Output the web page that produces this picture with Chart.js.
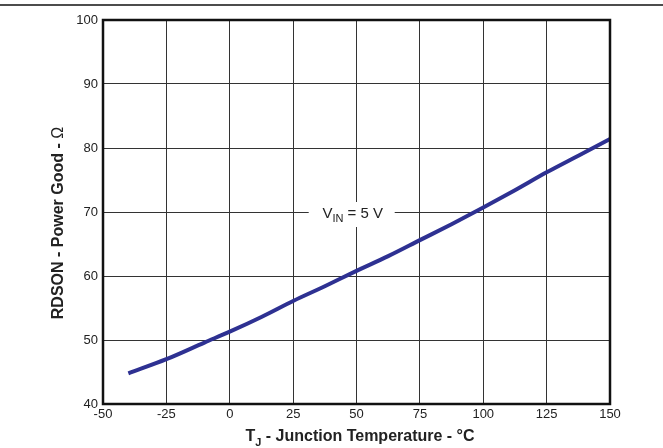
<!DOCTYPE html>
<html>
<head>
<meta charset="utf-8">
<script src="https://cdn.jsdelivr.net/npm/chart.js@4/dist/chart.umd.min.js"></script>
<style>
  html, body { margin: 0; padding: 0; background: #fff; }
  #wrap { width: 663px; height: 448px; }
</style>
</head>
<body>
<div id="wrap"><canvas id="chart" width="663" height="448"></canvas></div>
<script>
// Data
let temps = [-40, -25, -10, 0, 12.5, 25, 37.5, 50, 62.5, 75, 87.5, 100, 112.5, 125, 137.5, 150];
let rdson = [44.8, 47.0, 49.6, 51.3, 53.6, 56.1, 58.4, 60.8, 63.1, 65.6, 68.1, 70.7, 73.4, 76.2, 78.8, 81.4];
let xTicks = [-50, -25, 0, 25, 50, 75, 100, 125, 150];
let yTicks = [40, 50, 60, 70, 80, 90, 100];

const font = "'Liberation Sans', Arial, sans-serif";

let points = [];
for (let i = 0; i < temps.length; i++) {
    points.push({ x: temps[i], y: rdson[i] });
}

// Draw frame, top rule, titles with subscripts and the VIN label
const extras = {
    id: 'extras',
    afterDatasetsDraw(chart) {
        const ctx = chart.ctx;
        const a = chart.chartArea;
        const xs = chart.scales.x, ys = chart.scales.y;
        ctx.save();

        // rule across top of page
        ctx.strokeStyle = '#111';
        ctx.lineWidth = 1.5;
        ctx.beginPath();
        ctx.moveTo(0, 5);
        ctx.lineTo(663, 5);
        ctx.stroke();

        // frame
        ctx.lineWidth = 2.5;
        ctx.strokeRect(a.left, a.top, a.right - a.left, a.bottom - a.top);

        // VIN = 5 V label on white box
        let cx = xs.getPixelForValue(48.5);
        let cy = ys.getPixelForValue(70) + 2;
        ctx.fillStyle = '#fff';
        ctx.fillRect(cx - 44, cy - 12, 86, 25);
        ctx.fillStyle = '#222';
        ctx.textBaseline = 'middle';
        ctx.textAlign = 'left';
        ctx.font = '15px ' + font;
        let w1 = ctx.measureText('V').width;
        ctx.font = '11px ' + font;
        let w2 = ctx.measureText('IN').width;
        ctx.font = '15px ' + font;
        let w3 = ctx.measureText(' = 5 V').width;
        let sx = cx - (w1 + w2 + w3) / 2;
        ctx.fillText('V', sx, cy);
        ctx.font = '11px ' + font;
        ctx.fillText('IN', sx + w1, cy + 5);
        ctx.font = '15px ' + font;
        ctx.fillText(' = 5 V', sx + w1 + w2, cy);

        // x axis title
        ctx.font = 'bold 16px ' + font;
        let t1 = ctx.measureText('T').width;
        ctx.font = 'bold 11px ' + font;
        let t2 = ctx.measureText('J').width;
        ctx.font = 'bold 16px ' + font;
        let t3 = ctx.measureText(' - Junction Temperature - °C').width;
        let tx = 360 - (t1 + t2 + t3) / 2;
        let ty = 437;
        ctx.fillText('T', tx, ty);
        ctx.font = 'bold 11px ' + font;
        ctx.fillText('J', tx + t1, ty + 6);
        ctx.font = 'bold 16px ' + font;
        ctx.fillText(' - Junction Temperature - °C', tx + t1 + t2, ty);

        // y axis title
        ctx.translate(59, 223);
        ctx.rotate(-Math.PI / 2);
        ctx.font = 'bold 16px ' + font;
        let yt = 'RDSON - Power Good - ';
        let wy = ctx.measureText(yt).width;
        ctx.font = '16px ' + font;
        let wo = ctx.measureText('Ω').width;
        ctx.font = 'bold 16px ' + font;
        ctx.fillText(yt, -(wy + wo) / 2, 0);
        ctx.font = '16px ' + font;
        ctx.fillText('Ω', -(wy + wo) / 2 + wy, 0);

        ctx.restore();
    }
};

new Chart(document.getElementById('chart').getContext('2d'), {
    type: 'line',
    data: {
        datasets: [{
            data: points,
            borderColor: '#2e3192',
            borderWidth: 4,
            pointRadius: 0,
            cubicInterpolationMode: 'monotone',
            fill: false
        }]
    },
    options: {
        responsive: false,
        animation: false,
        layout: { padding: { left: 0, right: 53, top: 20, bottom: 0 } },
        plugins: {
            legend: { display: false },
            tooltip: { enabled: false }
        },
        scales: {
            x: {
                type: 'linear',
                min: -50,
                max: 150,
                afterBuildTicks: (s) => { s.ticks = xTicks.map(v => ({ value: v })); },
                afterFit: (s) => { s.height = 44; },
                grid: { color: '#333', lineWidth: 1, drawTicks: false },
                border: { display: false },
                ticks: { color: '#222', font: { family: font, size: 13 }, padding: 3, maxRotation: 0 }
            },
            y: {
                min: 40,
                max: 100,
                afterBuildTicks: (s) => { s.ticks = yTicks.map(v => ({ value: v })); },
                afterFit: (s) => { s.width = 103; },
                grid: { color: '#333', lineWidth: 1, drawTicks: false },
                border: { display: false },
                ticks: { color: '#222', font: { family: font, size: 13 }, padding: 5 }
            }
        }
    },
    plugins: [extras]
});
</script>
</body>
</html>
